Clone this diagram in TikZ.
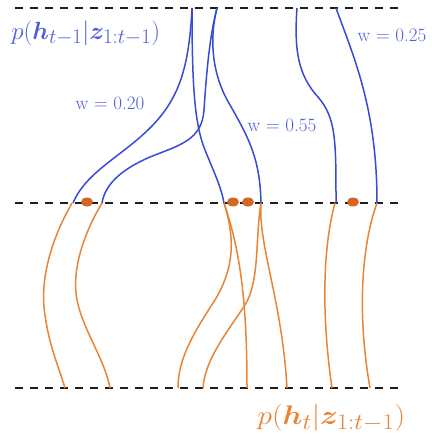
\documentclass[tikz,border=0pt]{standalone}
\usepackage{graphicx}
\usepackage{amsmath,bm}
\usetikzlibrary{positioning}
\definecolor{pblue}{RGB}{55,75,215}
\definecolor{tblue}{RGB}{80,95,215}
\definecolor{porange}{RGB}{232,132,52}
\definecolor{pdot}{RGB}{212,102,38}
\definecolor{cutgray}{RGB}{30,30,30}
\tikzset{every picture/.style={line width=0.75pt}}

\begin{document}
\begin{tikzpicture}[x=1pt,y=-1pt,
    cut/.style={cutgray, line width=2pt, dash pattern=on 8pt off 7pt},
    bpath/.style={pblue, line width=1.5pt},
    opath/.style={porange, line width=1.5pt},
    wlabel/.style={tblue, font=\fontsize{19}{22}\selectfont}]
    \useasboundingbox (0,0) rectangle (431,436);

    % 三条时间切面
    \draw[cut] (15,8) -- (402,8);
    \draw[cut] (15,203) -- (402,203);
    \draw[cut] (15,388) -- (402,388);

    % 蓝色轨迹 (t-1 之前)
    \draw[bpath] (192,8) .. controls (189,70) and (178,100) .. (150,128)
                         .. controls (122,156) and (86,172) .. (73,203);
    \draw[bpath] (192,8) .. controls (192,90) and (195,125) .. (205,150)
                         .. controls (213,170) and (221,186) .. (224,203);
    \draw[bpath] (217,8) .. controls (209,38) and (206,80) .. (204,110)
                         .. controls (202,140) and (180,145) .. (150,157)
                         .. controls (120,170) and (105,185) .. (102,203);
    \draw[bpath] (217,8) .. controls (209,40) and (212,75) .. (230,105)
                         .. controls (250,140) and (260,160) .. (261,203);
    \draw[bpath] (297,8) .. controls (294,50) and (298,75) .. (318,97)
                         .. controls (336,118) and (336,140) .. (336,203);
    \draw[bpath] (336,8) .. controls (355,60) and (377,110) .. (377,203);

    % 橙色轨迹 (预测)
    \draw[opath] (72,203) .. controls (48,245) and (40,285) .. (45,315)
                          .. controls (49,345) and (58,365) .. (65,388);
    \draw[opath] (102,203) .. controls (80,240) and (72,275) .. (77,300)
                           .. controls (83,330) and (105,360) .. (110,388);
    \draw[opath] (224,203) .. controls (234,235) and (236,265) .. (215,300)
                           .. controls (192,335) and (178,360) .. (178,388);
    \draw[opath] (224,203) .. controls (240,250) and (247,300) .. (247,388);
    \draw[opath] (261,203) .. controls (255,240) and (260,280) .. (245,305)
                           .. controls (225,335) and (205,360) .. (203,388);
    \draw[opath] (261,203) .. controls (258,245) and (282,300) .. (287,388);
    \draw[opath] (335,203) .. controls (322,250) and (322,320) .. (332,388);
    \draw[opath] (377,203) .. controls (360,250) and (358,320) .. (370,388);

    % 粒子
    \foreach \px in {87,233,248,353}
        \fill[pdot] (\px,202) ellipse (6 and 4.5);

    % 标注
    \node[tblue, anchor=west, inner sep=0pt, font=\Huge] (prior) at (11,33)
        {$p(\bm{h}_{t-1}|\bm{z}_{1:t-1})$};
    \node[porange, anchor=west, inner sep=0pt, font=\Huge] (pred) at (257,418)
        {\scalebox{1.2}[1.08]{$p(\bm{h}_{t}|\bm{z}_{1:t-1})$}};
    \node[wlabel] (w1) at (110,103) {w = 0.20};
    \node[wlabel] (w2) at (282,125) {w = 0.55};
    \node[wlabel] (w3) at (392,35) {w = 0.25};
\end{tikzpicture}
\end{document}
